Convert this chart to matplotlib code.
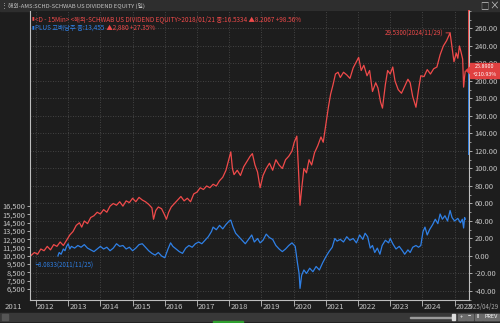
import matplotlib
matplotlib.use("Agg")
import matplotlib.pyplot as plt
from matplotlib.patches import Rectangle, Polygon
from matplotlib.ticker import FuncFormatter, MultipleLocator

# SCHD (red) and PLUS 고배당주 (blue), % change from start, by decimal year
red_x = [2011.83, 2011.95, 2012.05, 2012.15, 2012.25, 2012.35, 2012.45, 2012.55, 2012.65, 2012.75,
         2012.85, 2012.95, 2013.05, 2013.15, 2013.25, 2013.35, 2013.42, 2013.5, 2013.6, 2013.7,
         2013.8, 2013.9, 2014.0, 2014.1, 2014.2, 2014.3, 2014.4, 2014.5, 2014.6, 2014.7,
         2014.8, 2014.9, 2015.0, 2015.1, 2015.2, 2015.3, 2015.4, 2015.5, 2015.6, 2015.65,
         2015.72, 2015.8, 2015.9, 2015.98, 2016.05, 2016.12, 2016.2, 2016.3, 2016.4, 2016.5,
         2016.6, 2016.7, 2016.8, 2016.9, 2017.0, 2017.1, 2017.2, 2017.3, 2017.4, 2017.5,
         2017.6, 2017.7, 2017.8, 2017.9, 2018.0, 2018.05, 2018.1, 2018.15, 2018.25, 2018.35,
         2018.45, 2018.55, 2018.65, 2018.72, 2018.8, 2018.88, 2018.96, 2019.05, 2019.15, 2019.25,
         2019.35, 2019.45, 2019.55, 2019.65, 2019.75, 2019.85, 2019.95, 2020.02, 2020.1, 2020.15,
         2020.2, 2020.26, 2020.32, 2020.4, 2020.48, 2020.56, 2020.65, 2020.75, 2020.85, 2020.92,
         2021.0, 2021.08, 2021.15, 2021.22, 2021.3, 2021.38, 2021.45, 2021.55, 2021.65, 2021.75,
         2021.85, 2021.95, 2022.02, 2022.1, 2022.18, 2022.28, 2022.36, 2022.45, 2022.55, 2022.62,
         2022.7, 2022.76, 2022.85, 2022.92, 2023.0, 2023.08, 2023.15, 2023.25, 2023.35, 2023.45,
         2023.55, 2023.62, 2023.7, 2023.8, 2023.88, 2023.95, 2024.05, 2024.15, 2024.25, 2024.35,
         2024.45, 2024.55, 2024.65, 2024.75, 2024.86, 2024.93, 2024.98, 2025.05, 2025.1, 2025.15,
         2025.2, 2025.25, 2025.28, 2025.31, 2025.33]
red_y = [0, 4, 2, 8, 6, 11, 7, 13, 11, 16,
         12, 18, 24, 28, 35, 38, 33, 40, 37, 44,
         46, 50, 48, 53, 50, 57, 60, 58, 62, 57,
         63, 61, 66, 62, 67, 64, 62, 59, 55, 42,
         52, 56, 54, 48, 42, 50, 56, 60, 64, 68,
         63, 66, 62, 71, 73, 78, 76, 80, 78, 82,
         80, 86, 90, 98, 112, 119, 100, 93, 98, 92,
         102, 108, 114, 117, 104, 96, 78, 92, 100, 106,
         98, 110, 104, 100, 110, 114, 120, 130, 137, 100,
         58, 80, 100, 95, 110, 104, 118, 126, 136, 130,
         150, 170, 185, 195, 208, 210, 204, 210, 207, 203,
         215, 222, 227, 212, 218, 206, 212, 188, 198, 192,
         176, 169, 196, 212, 208, 216, 200, 190, 186, 194,
         202, 198, 182, 170, 190, 206, 205, 213, 208, 214,
         216, 230, 240, 246, 255, 236, 222, 232, 226, 240,
         233, 225, 193, 205, 211]

blue_x = [2012.68, 2012.72, 2012.78, 2012.85, 2012.9, 2012.95, 2013.0, 2013.05, 2013.1, 2013.2,
          2013.3, 2013.4, 2013.5, 2013.6, 2013.7, 2013.8, 2013.9, 2014.0, 2014.1, 2014.2,
          2014.3, 2014.4, 2014.5, 2014.6, 2014.7, 2014.8, 2014.9, 2015.0, 2015.1, 2015.2,
          2015.3, 2015.4, 2015.5, 2015.6, 2015.7, 2015.8, 2015.9, 2016.0, 2016.1, 2016.18,
          2016.25, 2016.35, 2016.45, 2016.55, 2016.65, 2016.75, 2016.85, 2016.95, 2017.05, 2017.15,
          2017.25, 2017.35, 2017.45, 2017.5, 2017.6, 2017.7, 2017.8, 2017.9, 2018.0, 2018.05,
          2018.12, 2018.2, 2018.3, 2018.4, 2018.5, 2018.6, 2018.7, 2018.78, 2018.88, 2018.96,
          2019.05, 2019.15, 2019.25, 2019.35, 2019.45, 2019.55, 2019.65, 2019.75, 2019.85, 2019.95,
          2020.05, 2020.12, 2020.17, 2020.2, 2020.25, 2020.32, 2020.4, 2020.5, 2020.6, 2020.7,
          2020.8, 2020.9, 2021.0, 2021.1, 2021.2, 2021.28, 2021.35, 2021.45, 2021.55, 2021.65,
          2021.75, 2021.85, 2021.95, 2022.05, 2022.15, 2022.22, 2022.3, 2022.38, 2022.45, 2022.52,
          2022.6, 2022.68, 2022.75, 2022.85, 2022.95, 2023.0, 2023.08, 2023.18, 2023.28, 2023.38,
          2023.45, 2023.55, 2023.62, 2023.7, 2023.8, 2023.88, 2023.95, 2024.02, 2024.08, 2024.15,
          2024.22, 2024.32, 2024.4, 2024.48, 2024.55, 2024.62, 2024.7, 2024.78, 2024.86, 2024.92,
          2025.0, 2025.1, 2025.18, 2025.24, 2025.28, 2025.31, 2025.33]
blue_y = [0, 4, 2, 8, 6, 11, 14, 8, 11, 9,
          12, 10, 13, 9, 7, 5, 8, 11, 8, 10,
          6, 9, 14, 11, 12, 8, 10, 6, 9, 13,
          14, 10, 6, 3, 1, 4, 0, -2, 8, 15,
          11, 8, 5, 3, 9, 12, 10, 14, 16, 14,
          18, 22, 28, 33, 30, 35, 31, 36, 40, 41,
          33, 26, 22, 18, 14, 19, 24, 16, 20, 15,
          18, 25, 21, 19, 12, 8, 5, 8, 12, 15,
          11, -8, -20, -37, -22, -16, -20, -14, -18, -12,
          -16, -8, -1, 5, 10, 20, 17, 19, 16, 22,
          18, 20, 15, 24, 19, 26, 22, 9, 12, 4,
          9, 2, 12, 18, 15, 20, 14, 8, 11, 6,
          2, 7, 4, 10, 12, 10, 12, 28, 33, 24,
          30, 36, 42, 37, 48, 42, 46, 40, 52, 44,
          40, 43, 38, 42, 32, 44, 42]

years = list(range(2011, 2026))
pct_ticks = list(range(-40, 261, 20))
krw_ticks = list(range(6500, 16501, 1000))

BG = "#1d1d1d"
RED = "#f04a4a"
BLUE = "#2f80e6"
TXT = "#c4c4c4"
GRID = "#505050"
FONT = ["Liberation Sans Narrow", "Noto Sans CJK KR", "DejaVu Sans"]
plt.rcParams["font.family"] = FONT

W, H = 500, 323
fig = plt.figure(figsize=(5, 3.23), dpi=100, facecolor=BG)


def fx(px):
    return px / W


def fy(py):
    return 1 - py / H


ax = fig.add_axes([fx(30), fy(300), fx(469) - fx(30), fy(11) - fy(300)])
ax.set_facecolor(BG)
ax.plot(red_x, red_y, color=RED, lw=0.9)
ax.plot(blue_x, blue_y, color=BLUE, lw=0.9)
ax.set_xlim(2011.814, 2025.447)
ax.set_ylim(-50.3, 280)

# grid
for yr in years[1:]:
    ax.axvline(yr, color=GRID, lw=0.6, ls=(0, (1, 2)), zorder=0)
for p in pct_ticks:
    ax.axhline(p, color=GRID, lw=0.6, ls=(0, (1, 2)), zorder=0)

# right axis (%)
ax.yaxis.tick_right()
ax.set_yticks(pct_ticks)
ax.yaxis.set_minor_locator(MultipleLocator(10))
ax.yaxis.set_major_formatter(FuncFormatter(lambda v, _: f"{v:.2f}"))
ax.tick_params(axis="y", which="major", colors=TXT, labelsize=5.4, length=2.5, width=0.6, pad=1.5)
ax.tick_params(axis="y", which="minor", colors=TXT, length=1.5, width=0.5)
ax.tick_params(axis="x", colors=TXT, length=4, width=0.6, labelbottom=False)
ax.set_xticks(years[1:])
ax.spines["top"].set_visible(False)
for s in ["left", "right", "bottom"]:
    ax.spines[s].set_color("#bdbdbd")
    ax.spines[s].set_linewidth(0.8)

# left axis (KRW)
sec = ax.secondary_yaxis("left", functions=(lambda p: 6500 + (33 + 0.875 * p) / 0.0083,
                                           lambda k: ((k - 6500) * 0.0083 - 33) / 0.875))
sec.set_yticks(krw_ticks)
sec.yaxis.set_major_formatter(FuncFormatter(lambda v, _: f"{v:,.0f}"))
sec.tick_params(colors=TXT, labelsize=5.4, length=2, width=0.6, pad=1)
sec.spines["left"].set_visible(False)

# year labels
for yr in years:
    ax.text(yr + 0.03, -0.012, str(yr), transform=ax.get_xaxis_transform(), ha="left", va="top",
            fontsize=5.6, color=TXT, clip_on=False)
fig.text(fx(499), fy(302.5), "2025/04/29", ha="right", va="top", fontsize=4.4, color="#a8a8a8")

# colored range markers on the right spine
ax.plot([1, 1], [280, 213], transform=ax.get_yaxis_transform(), color=RED, lw=1.4, clip_on=False)
ax.plot([1, 1], [213, 117], transform=ax.get_yaxis_transform(), color=BLUE, lw=1.4, clip_on=False)

# annotations
ax.annotate("29.5300(2024/11/29)", xy=(2024.86, 255), xytext=(-5, 0), textcoords="offset points",
            ha="right", va="center", fontsize=4.4, color=RED,
            arrowprops=dict(arrowstyle="-", color=RED, lw=0.6, shrinkA=0, shrinkB=0))
ax.annotate("└8.0833(2011/11/25)", xy=(red_x[0], 0), xytext=(1, -6), textcoords="offset points",
            ha="left", va="center", fontsize=4.4, color=BLUE)

# legend rows
ax.text(0.003, 0.985, "▮", transform=ax.transAxes, fontsize=3.5, color=RED, va="top", ha="left")
ax.text(0.012, 0.987, "<D - 15Min> <해외-SCHWAB US DIVIDEND EQUITY>2018/01/21 종:16.5334 ▲8.2067 +98.56%",
        transform=ax.transAxes, fontsize=4.6, color=RED, va="top", ha="left")
ax.text(0.003, 0.955, "▮", transform=ax.transAxes, fontsize=3.5, color=BLUE, va="top", ha="left")
t = ax.text(0.012, 0.957, "PLUS 고배당주 종:13,455", transform=ax.transAxes, fontsize=4.6,
            color=BLUE, va="top", ha="left")
ax.annotate(" ▲2,880 +27.35%", xycoords=t, xy=(1, 0), va="bottom", ha="left", fontsize=4.6, color=RED)

# title bar
fig.patches.append(Rectangle((0, fy(11)), 1, 11 / H, transform=fig.transFigure, color="#2e2e2e", zorder=-1))
fig.text(fx(1), fy(5.5), "⋮", fontsize=5, color=TXT, va="center", ha="left")
fig.text(fx(8), fy(5.5), "해외-AMS:SCHD-SCHWAB US DIVIDEND EQUITY (일)", fontsize=4.2, color=TXT,
         va="center", ha="left")
fig.text(fx(484), fy(5.5), "□", fontsize=6, color=TXT, va="center", ha="center")
fig.text(fx(494), fy(5.5), "×", fontsize=7, color=TXT, va="center", ha="center")

# last-price box
fig.patches.append(Rectangle((fx(470), fy(78)), fx(30), 15 / H, transform=fig.transFigure,
                             color="#e04040", zorder=5))
fig.patches.append(Polygon([(fx(466), fy(70.5)), (fx(470.5), fy(67)), (fx(470.5), fy(74))],
                           closed=True, transform=fig.transFigure, color="#e04040", zorder=5))
fig.text(fx(485), fy(66.3), "25.8900", fontsize=3.9, color="white", ha="center", va="center", zorder=6)
fig.text(fx(485), fy(74.3), "+210.93%", fontsize=3.9, color="white", ha="center", va="center", zorder=6)

# bottom scroll bar
fig.patches.append(Rectangle((0, fy(321)), 1, 8 / H, transform=fig.transFigure, color="#383838", zorder=-1))
fig.patches.append(Rectangle((fx(2), fy(320)), fx(6), 6 / H, transform=fig.transFigure, color="#555555"))
fig.patches.append(Rectangle((fx(410), fy(317.5)), fx(43), 1 / H, transform=fig.transFigure, color="#9a9a9a"))
fig.patches.append(Rectangle((fx(452), fy(320)), fx(3), 6 / H, transform=fig.transFigure, color="#dddddd"))
for bx, lab, bw in [(458, "+", 7), (466, "−", 7), (475, "II", 7), (483, "PREV", 16)]:
    fig.patches.append(Rectangle((fx(bx), fy(320)), fx(bw), 6 / H, transform=fig.transFigure, color="#6a6a6a"))
    fig.text(fx(bx + bw / 2), fy(317), lab, fontsize=4, color="white", ha="center", va="center")
fig.patches.append(Rectangle((fx(213), fy(323)), fx(30), 2 / H, transform=fig.transFigure, color="#2e9e2e"))

fig.savefig("out.png", dpi=100, facecolor=BG)
